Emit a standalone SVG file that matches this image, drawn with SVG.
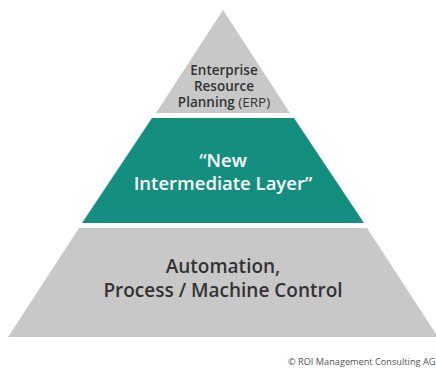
<svg xmlns="http://www.w3.org/2000/svg" width="436" height="369" viewBox="0 0 436 369">
<style>
.gray{fill:#c8c8c8}
.teal{fill:#148f7f}
.t{font-family:"Open Sans","Liberation Sans",sans-serif;font-weight:600;text-anchor:middle}
.dark{fill:#333333}
.white{fill:#ffffff}
</style>
<rect width="436" height="369" fill="#ffffff"/>
<g id="erp">
<polygon class="gray" points="223,10 290,113 156,113"/>
<text class="t dark" font-size="13.5" x="224" y="75">Enterprise</text>
<text class="t dark" font-size="13.5" x="224" y="91">Resource</text>
<text class="t dark" font-size="13.5" x="224" y="107">Planning <tspan font-weight="400" font-size="13.5">(ERP)</tspan></text>
</g>
<g id="intermediate">
<polygon class="teal" points="152,118 294,118 364,223 82,223"/>
<text class="t white" font-size="18.5" x="223" y="167">“New</text>
<text class="t white" font-size="18.5" x="223" y="190">Intermediate Layer”</text>
</g>
<g id="automation">
<polygon class="gray" points="79,228 367,228 438,337 8,337"/>
<text class="t dark" font-size="19" x="223" y="273">Automation,</text>
<text class="t dark" font-size="19" x="223" y="297">Process / Machine Control</text>
</g>
<g id="connectors"/>
<text x="288" y="365" font-family="'Open Sans','Liberation Sans',sans-serif" font-size="9.2" fill="#555555">© ROI Management Consulting AG</text>
</svg>
